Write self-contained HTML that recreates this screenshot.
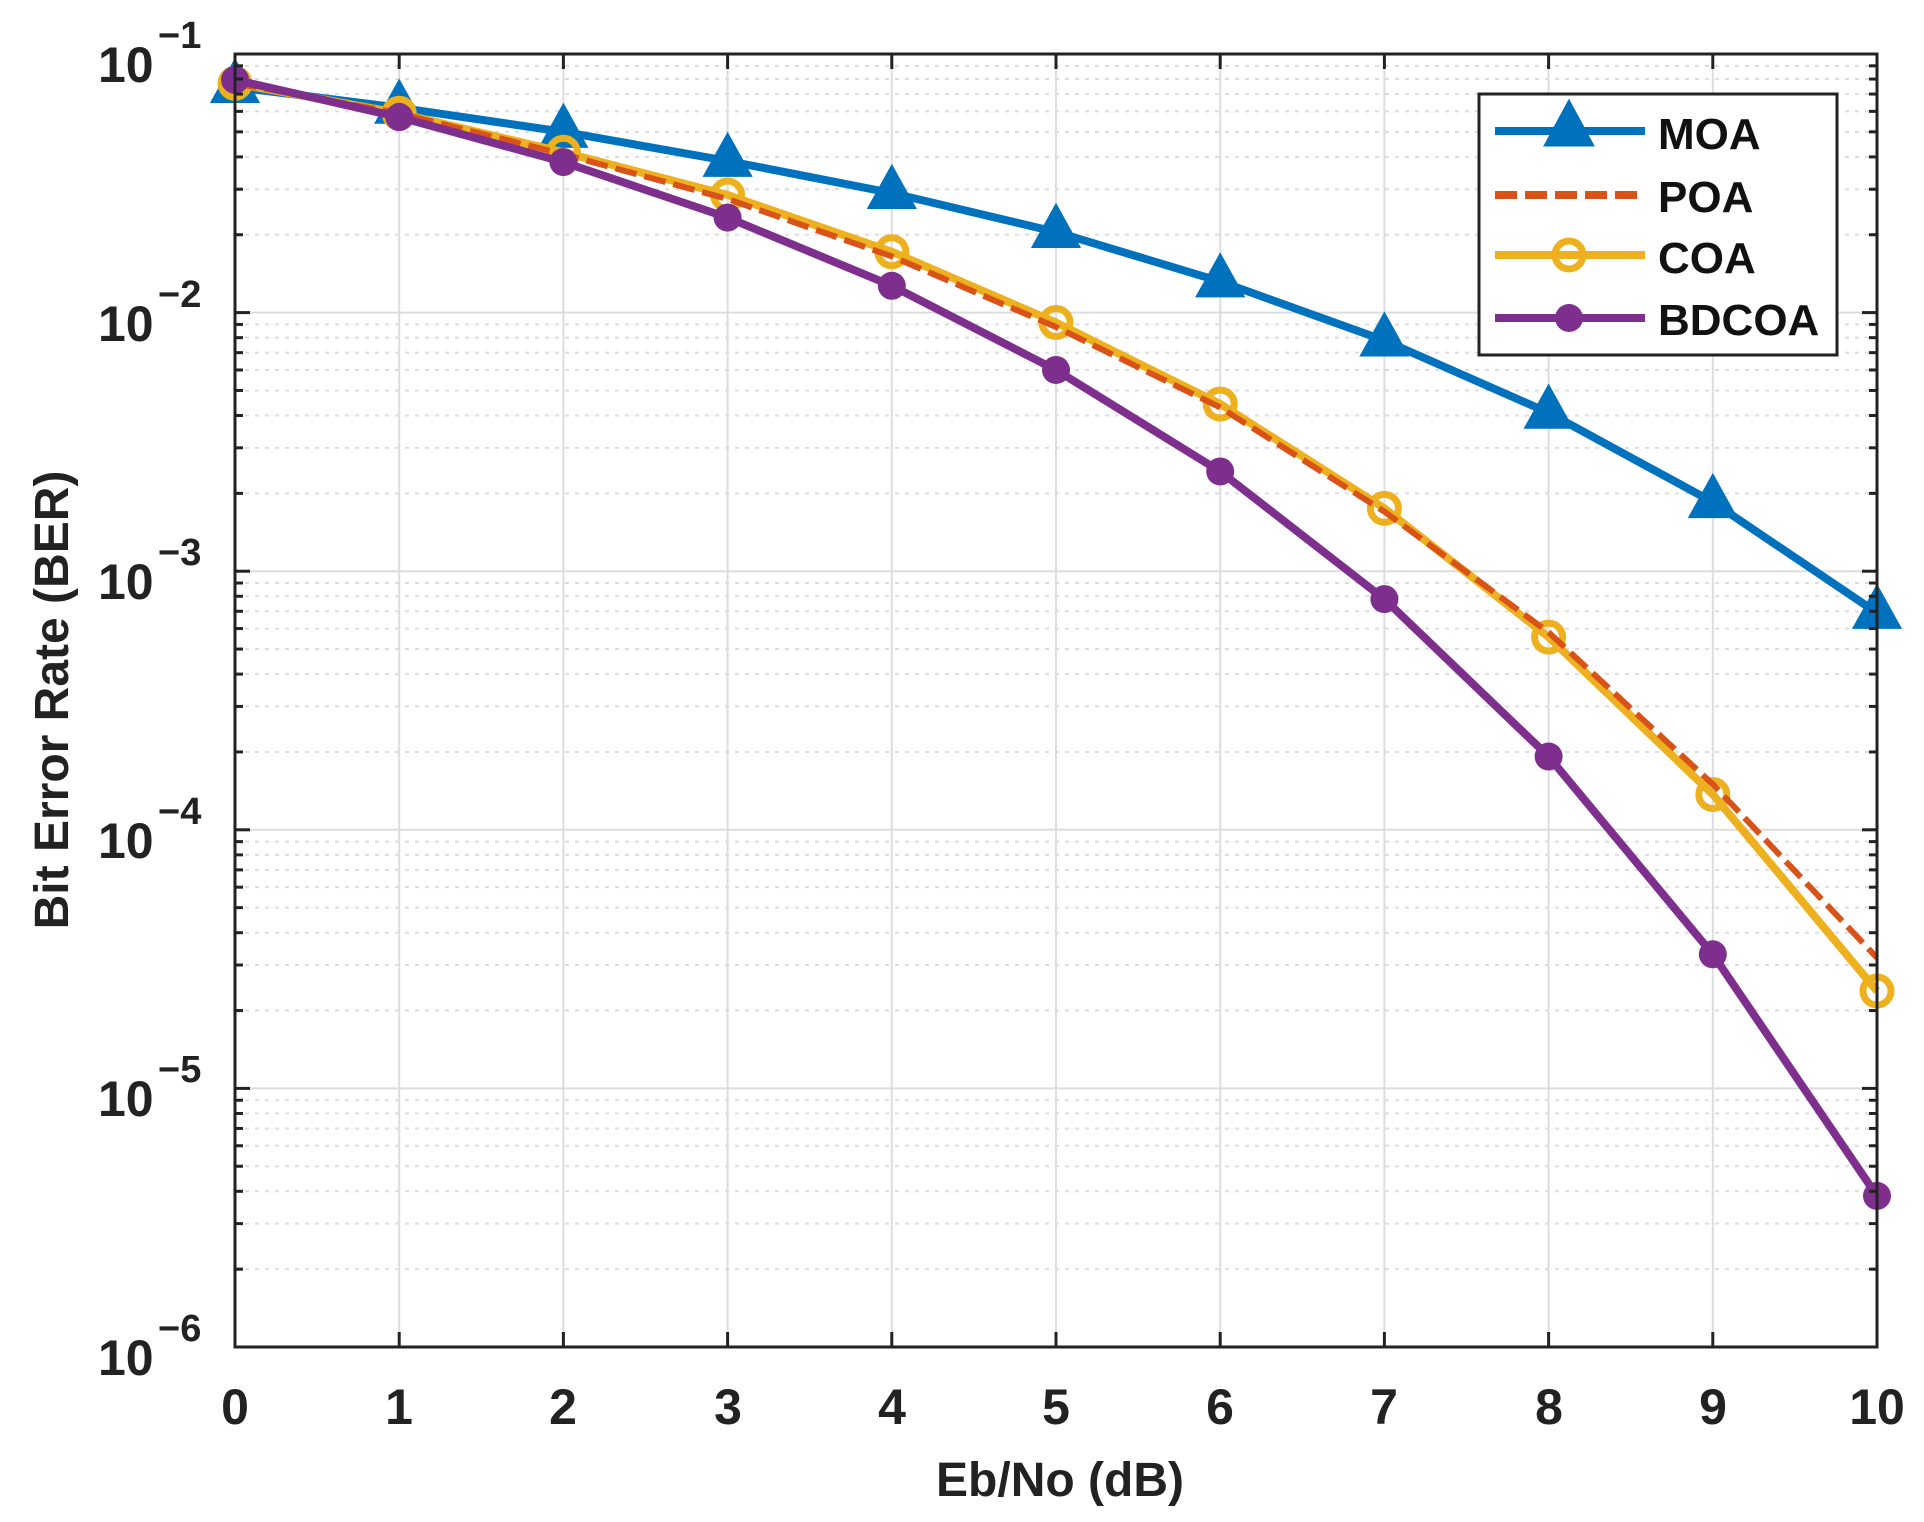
<!DOCTYPE html>
<html><head><meta charset="utf-8"><style>
html,body{margin:0;padding:0;background:#fff;}
svg{display:block;font-family:"Liberation Sans",sans-serif;font-weight:bold;}
</style></head><body>
<svg id="s" width="1924" height="1522" viewBox="0 0 1924 1522" xmlns="http://www.w3.org/2000/svg">
<g id="grid"></g>
<g id="series"></g>
<rect x="235" y="54" width="1642" height="1293" fill="none" stroke="#222" stroke-width="3"/>
<g id="ticks"></g>
<g font-size="50" fill="#222" text-anchor="middle">
<text x="235" y="1424">0</text><text x="399" y="1424">1</text><text x="563" y="1424">2</text><text x="728" y="1424">3</text><text x="892" y="1424">4</text><text x="1056" y="1424">5</text><text x="1220" y="1424">6</text><text x="1384" y="1424">7</text><text x="1549" y="1424">8</text><text x="1713" y="1424">9</text><text x="1877" y="1424">10</text>
</g>
<g font-size="50" fill="#222">
<text x="98" y="82">10</text><text x="158" y="48" font-size="38">−1</text>
<text x="98" y="341">10</text><text x="158" y="307" font-size="38">−2</text>
<text x="98" y="599">10</text><text x="158" y="565" font-size="38">−3</text>
<text x="98" y="858">10</text><text x="158" y="824" font-size="38">−4</text>
<text x="98" y="1116">10</text><text x="158" y="1082" font-size="38">−5</text>
<text x="98" y="1375">10</text><text x="158" y="1341" font-size="38">−6</text>
</g>
<text x="1060" y="1496" font-size="48" fill="#222" text-anchor="middle">Eb/No (dB)</text>
<text transform="translate(68,700) rotate(-90)" font-size="48" fill="#222" text-anchor="middle">Bit Error Rate (BER)</text>
<g id="legend">
<rect x="1479" y="94" width="358" height="261" fill="#fff" stroke="#222" stroke-width="3"/>
<line x1="1495" y1="131" x2="1645" y2="131" stroke="#0072BD" stroke-width="8"/>
<polygon points="1569,106 1589,143 1549,143" fill="#0072BD" stroke="#0072BD" stroke-width="7"/>
<line x1="1495" y1="195" x2="1645" y2="195" stroke="#D95319" stroke-width="8" stroke-dasharray="22,8"/>
<line x1="1495" y1="255" x2="1645" y2="255" stroke="#EDB120" stroke-width="8"/>
<circle cx="1569" cy="255" r="14" fill="none" stroke="#EDB120" stroke-width="7"/>
<line x1="1495" y1="318" x2="1645" y2="318" stroke="#7E2F8E" stroke-width="8"/>
<circle cx="1569" cy="318" r="14" fill="#7E2F8E"/>
<g font-size="44" fill="#111">
<text x="1658" y="149">MOA</text><text x="1658" y="212">POA</text><text x="1658" y="273">COA</text><text x="1658" y="335">BDCOA</text>
</g>
</g>
</svg>
<script>
var NS="http://www.w3.org/2000/svg";
var L=235,R=1877,T=54,B=1347,dec=(B-T)/5;
function X(v){return L+v*(R-L)/10;}
function Y(v){return T+(-1-Math.log10(v))*dec;}
function el(p,t,a){var e=document.createElementNS(NS,t);for(var k in a)e.setAttribute(k,a[k]);p.appendChild(e);return e;}
var g=document.getElementById('grid'),tk=document.getElementById('ticks');
for(var i=0;i<=10;i++){var x=X(i);el(g,'line',{x1:x,y1:T,x2:x,y2:B,stroke:'#ddd','stroke-width':2});
el(tk,'line',{x1:x,y1:B,x2:x,y2:B-15,stroke:'#222','stroke-width':3});el(tk,'line',{x1:x,y1:T,x2:x,y2:T+15,stroke:'#222','stroke-width':3});}
for(var d=-6;d<=-1;d++){var y=Y(Math.pow(10,d));el(g,'line',{x1:L,y1:y,x2:R,y2:y,stroke:'#ddd','stroke-width':2});
el(tk,'line',{x1:L,y1:y,x2:L+15,y2:y,stroke:'#222','stroke-width':3});el(tk,'line',{x1:R,y1:y,x2:R-15,y2:y,stroke:'#222','stroke-width':3});
if(d<-1)for(var m=2;m<=9;m++){var yy=Y(m*Math.pow(10,d));el(g,'line',{x1:L,y1:yy,x2:R,y2:yy,stroke:'#ddd','stroke-width':2,'stroke-dasharray':'4,6'});
el(tk,'line',{x1:L,y1:yy,x2:L+8,y2:yy,stroke:'#222','stroke-width':3});el(tk,'line',{x1:R,y1:yy,x2:R-8,y2:yy,stroke:'#222','stroke-width':3});}}
var S=document.getElementById('series');
var moa=[0.0745,0.062,0.050,0.0386,0.029,0.0205,0.0132,0.0078,0.0041,0.00185,0.00069];
var poa=[0.077,0.059,0.041,0.0275,0.0165,0.0088,0.0043,0.0017,0.00058,0.00015,3.2e-5];
var coa=[0.077,0.059,0.0417,0.0285,0.0172,0.00916,0.00443,0.00175,0.000556,0.000137,2.38e-5];
var bd=[0.0795,0.057,0.0382,0.0233,0.0127,0.006,0.00243,0.00078,0.000192,3.3e-5,3.84e-6];
function pts(a){return a.map(function(v,i){return X(i)+','+Y(v);}).join(' ');}
el(S,'polyline',{points:pts(moa),fill:'none',stroke:'#0072BD','stroke-width':8});
moa.forEach(function(v,i){var x=X(i),y=Y(v);el(S,'polygon',{points:x+','+(y-23)+' '+(x+20)+','+(y+13)+' '+(x-20)+','+(y+13),fill:'#0072BD',stroke:'#0072BD','stroke-width':6});});
el(S,'polyline',{points:pts(coa),fill:'none',stroke:'#EDB120','stroke-width':8});
coa.forEach(function(v,i){el(S,'circle',{cx:X(i),cy:Y(v),r:14,fill:'none',stroke:'#EDB120','stroke-width':7});});
el(S,'polyline',{points:pts(poa),fill:'none',stroke:'#D95319','stroke-width':6,'stroke-dasharray':'22,8'});
el(S,'polyline',{points:pts(bd),fill:'none',stroke:'#7E2F8E','stroke-width':8});
bd.forEach(function(v,i){el(S,'circle',{cx:X(i),cy:Y(v),r:14,fill:'#7E2F8E'});});
</script>
</body></html>
